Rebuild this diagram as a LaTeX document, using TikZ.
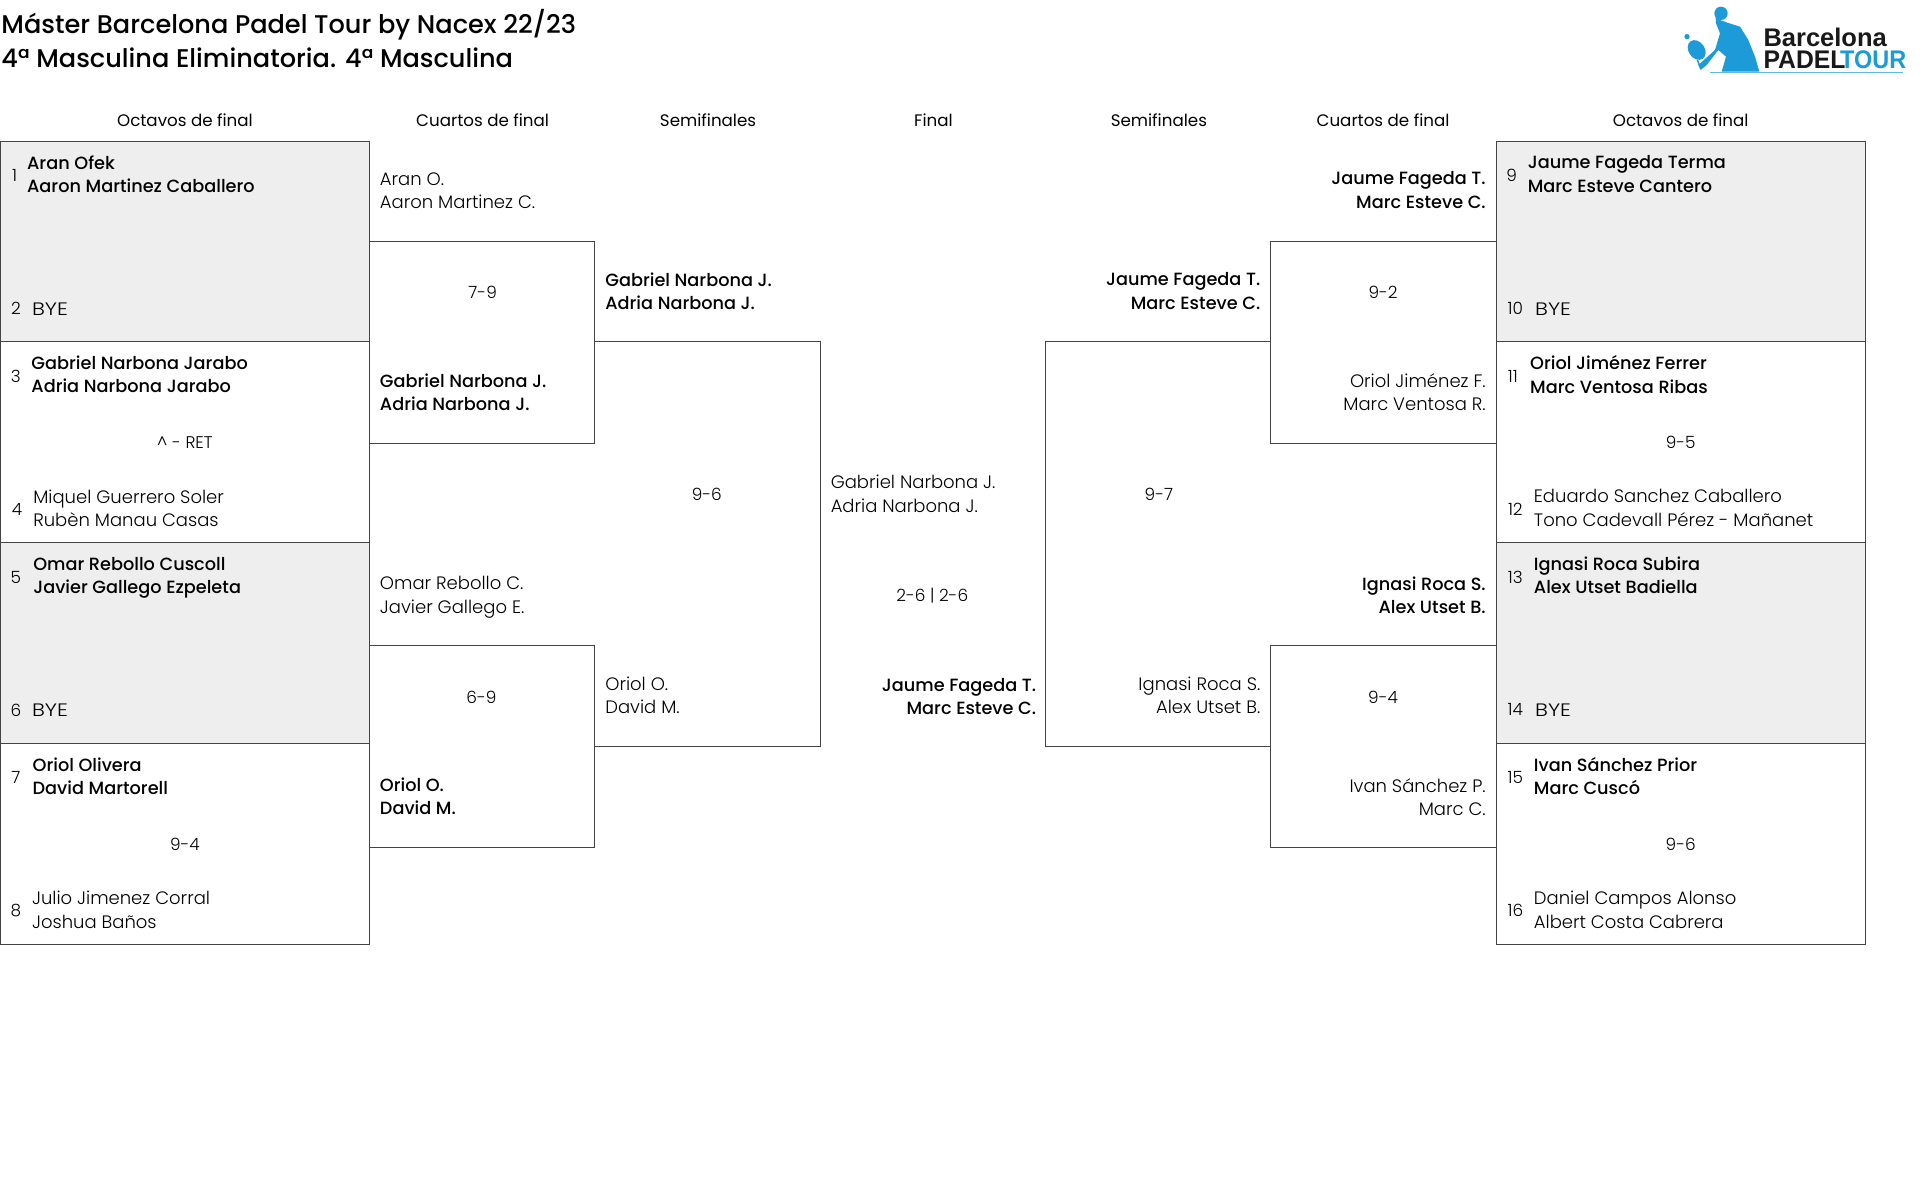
\documentclass[tikz,border=0pt]{standalone}
\usepackage{fontspec}
\setmainfont{Poppins}
\newfontfamily\lightf{Poppins Light}
\newfontfamily\medf{Poppins Medium}
\newfontfamily\regf{Poppins}
\newfontfamily\logof{Liberation Sans}[BoldFont={Liberation Sans Bold}]
\definecolor{logoblue}{HTML}{1C9BD8}
\definecolor{linec}{HTML}{444444}
\definecolor{boxg}{HTML}{EEEEEE}
\newcommand{\byetxt}{\scalebox{1.2}[1]{BYE}}
\tikzset{
  bl/.style={inner sep=0pt,align=left,anchor=west,font=\fontsize{18}{23.3}\selectfont\lightf,text=black,execute at begin node=\strut,execute at end node=\strut,yshift=-3pt},
  bm/.style={bl,font=\fontsize{17.7}{23.3}\selectfont\medf},
  rl/.style={bl,align=right,anchor=east},
  rm/.style={bm,align=right,anchor=east},
  cl/.style={inner sep=0pt,anchor=center,align=center,text=black,font=\fontsize{16.9}{23.3}\selectfont\lightf},
  hd/.style={inner sep=0pt,anchor=center,align=center,text=black,font=\fontsize{16.7}{23.3}\selectfont\regf},
  ttl/.style={inner sep=0pt,anchor=west,font=\fontsize{25.6}{33}\selectfont\medf},
  seedn/.style={cl},
  gridl/.style={draw=linec,line width=1pt},
  greybox/.style={fill=boxg,draw=linec,line width=1pt},
  logotxt/.style={inner sep=0pt,anchor=base west,font=\logof\bfseries\fontsize{25.5}{24}\selectfont,text=black!90}
}
\begin{document}
\begin{tikzpicture}[x=1.225pt,y=-1.225pt]
\useasboundingbox (0pt,0pt) rectangle (1920pt,-1199pt);
\fill[white] (0pt,0pt) rectangle (1920pt,-1199pt);
% boxes
\draw[greybox] (0.5,115.5) rectangle (302,279);
\draw[greybox] (0.5,443) rectangle (302,607);
\draw[greybox] (1221.5,115.5) rectangle (1522.5,279);
\draw[greybox] (1221.5,443) rectangle (1522.5,607);
\draw[gridl] (0.5,279) rectangle (302,443);
\draw[gridl] (0.5,607) rectangle (302,771);
\draw[gridl] (1221.5,279) rectangle (1522.5,443);
\draw[gridl] (1221.5,607) rectangle (1522.5,771);
\draw[gridl] (302,197) -- (485.5,197) -- (485.5,362) -- (302,362);
\draw[gridl] (302,527) -- (485.5,527) -- (485.5,692) -- (302,692);
\draw[gridl] (485.5,279) -- (669.5,279) -- (669.5,609) -- (485.5,609);
\draw[gridl] (1221.5,197) -- (1037.5,197) -- (1037.5,362) -- (1221.5,362);
\draw[gridl] (1221.5,527) -- (1037.5,527) -- (1037.5,692) -- (1221.5,692);
\draw[gridl] (1037.5,279) -- (853.5,279) -- (853.5,609) -- (1037.5,609);
% title
\node[ttl] (t1) at (1,20) {Máster Barcelona Padel Tour by Nacex 22/23};
\node[ttl] (t2) at (1,47) {4ª Masculina Eliminatoria. 4ª Masculina};
% headers
\node[hd] (h1) at (151,98) {Octavos de final};
\node[hd] (h2) at (394,98) {Cuartos de final};
\node[hd] (h3) at (578,98) {Semifinales};
\node[hd] (h4) at (762,98) {Final};
\node[hd] (h5) at (946,98) {Semifinales};
\node[hd] (h6) at (1129,98) {Cuartos de final};
\node[hd] (h7) at (1372,98) {Octavos de final};
% left octavos
\node[seedn] (s1) at (12,143) {1};
\node[bm] (n1) at (22,142.5) {Aran Ofek\\Aaron Martinez Caballero};
\node[seedn] (s2) at (13,251.5) {2};
\node[bl] (n2) at (26,251) {\byetxt};
\node[seedn] (s3) at (13,307) {3};
\node[bm] (n3) at (25.5,306) {Gabriel Narbona Jarabo\\Adria Narbona Jarabo};
\node[cl] (r1) at (151,361.5) {\textasciicircum{} - RET};
\node[seedn] (s4) at (14,415.5) {4};
\node[bl] (n4) at (27,415) {Miquel Guerrero Soler\\Rubèn Manau Casas};
\node[seedn] (s5) at (13,471) {5};
\node[bm] (n5) at (27,470) {Omar Rebollo Cuscoll\\Javier Gallego Ezpeleta};
\node[seedn] (s6) at (13,579.5) {6};
\node[bl] (n6) at (26,579) {\byetxt};
\node[seedn] (s7) at (13,635) {7};
\node[bm] (n7) at (26.5,634) {Oriol Olivera\\David Martorell};
\node[cl] (r2) at (151,689.5) {9-4};
\node[seedn] (s8) at (13,743.5) {8};
\node[bl] (n8) at (26,743) {Julio Jimenez Corral\\Joshua Baños};
% left cuartos
\node[bl] (q1) at (310,156) {Aran O.\\Aaron Martinez C.};
\node[cl] (qr1) at (394,239) {7-9};
\node[bm] (q2) at (310,320.5) {Gabriel Narbona J.\\Adria Narbona J.};
\node[bl] (q3) at (310,486) {Omar Rebollo C.\\Javier Gallego E.};
\node[cl] (qr2) at (393,569) {6-9};
\node[bm] (q4) at (310,650.5) {Oriol O.\\David M.};
% left semis
\node[bm] (m1) at (494,238) {Gabriel Narbona J.\\Adria Narbona J.};
\node[cl] (mr1) at (577,403.5) {9-6};
\node[bl] (m2) at (494,568) {Oriol O.\\David M.};
% final
\node[bl] (f1) at (678,403.5) {Gabriel Narbona J.\\Adria Narbona J.};
\node[cl] (fr) at (761,486) {2-6 | 2-6};
\node[rm] (f2) at (846,569) {Jaume Fageda T.\\Marc Esteve C.};
% right semis
\node[rm] (m3) at (1029,238) {Jaume Fageda T.\\Marc Esteve C.};
\node[cl] (mr2) at (946,403.5) {9-7};
\node[rl] (m4) at (1029,568) {Ignasi Roca S.\\Alex Utset B.};
% right cuartos
\node[rm] (q5) at (1213,155.5) {Jaume Fageda T.\\Marc Esteve C.};
\node[cl] (qr3) at (1129,239) {9-2};
\node[rl] (q6) at (1213,320.5) {Oriol Jiménez F.\\Marc Ventosa R.};
\node[rm] (q7) at (1213,486) {Ignasi Roca S.\\Alex Utset B.};
\node[cl] (qr4) at (1129,569) {9-4};
\node[rl] (q8) at (1213,651) {Ivan Sánchez P.\\Marc C.};
% right octavos
\node[seedn] (s9) at (1234,143) {9};
\node[bm] (n9) at (1247,142.5) {Jaume Fageda Terma\\Marc Esteve Cantero};
\node[seedn] (s10) at (1237,251.5) {10};
\node[bl] (n10) at (1253,251) {\byetxt};
\node[seedn] (s11) at (1235,307) {11};
\node[bm] (n11) at (1249,306) {Oriol Jiménez Ferrer\\Marc Ventosa Ribas};
\node[cl] (r3) at (1372,361.5) {9-5};
\node[seedn] (s12) at (1237,415.5) {12};
\node[bl] (n12) at (1252,415) {Eduardo Sanchez Caballero\\Tono Cadevall Pérez - Mañanet};
\node[seedn] (s13) at (1237,471) {13};
\node[bm] (n13) at (1252,470) {Ignasi Roca Subira\\Alex Utset Badiella};
\node[seedn] (s14) at (1237,579.5) {14};
\node[bl] (n14) at (1253,579) {\byetxt};
\node[seedn] (s15) at (1237,635) {15};
\node[bm] (n15) at (1252,634) {Ivan Sánchez Prior\\Marc Cuscó};
\node[cl] (r4) at (1372,689.5) {9-6};
\node[seedn] (s16) at (1237,743.5) {16};
\node[bl] (n16) at (1252,743) {Daniel Campos Alonso\\Albert Costa Cabrera};
% logo
\begin{scope}[shift={(1640pt,0pt)},x=0.3333pt,y=-0.3333pt]
\fill[logoblue] (243,40) circle (20);
\fill[logoblue] (226,40) -- (240,60) -- (262,68) -- (300,80) -- (325,120) -- (345,170) -- (358,215) -- (245,215) -- (258,170) -- (235,150) -- (200,195) -- (182,210) -- (175,195) -- (225,150) -- (240,100) -- (228,70) -- cycle;
\fill[logoblue,rotate around={35:(170,150)}] (170,150) ellipse (24 and 32);
\draw[logoblue,line width=1.5pt] (172,180) -- (182,205);
\fill[logoblue] (141,110) circle (8);
\draw[logoblue!70,line width=1pt] (210,218) -- (790,218);
\node[logotxt] (lg1) at (370,139) {Barcelona};
\node[logotxt] (lg2) at (370,205) {\scalebox{0.97}[1]{PADEL}};
\node[logotxt,text=logoblue] (lg3) at (600,205) {\scalebox{0.92}[1]{TOUR}};
\end{scope}
\end{tikzpicture}
\end{document}
